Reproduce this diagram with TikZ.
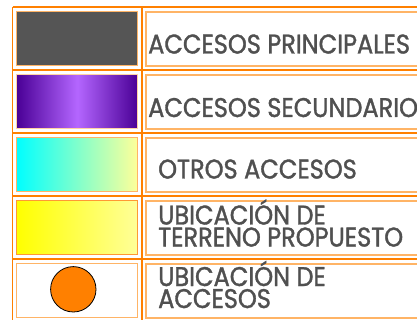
\documentclass[tikz,border=0pt]{standalone}
\usepackage{fontspec}
\setmainfont{Poppins}[FakeStretch=0.89,FakeBold=1.3]
\definecolor{gridor}{HTML}{FF8000}
\definecolor{lightor}{HTML}{FFB466}
\definecolor{txt}{HTML}{505050}
\definecolor{swgray}{HTML}{555555}
\definecolor{pdark}{HTML}{4A0096}
\definecolor{plight}{HTML}{B466FF}
\definecolor{ylight}{HTML}{FFFF99}
\begin{document}
\begin{tikzpicture}[x=1pt,y=-1pt,
  gridline/.style={draw=gridor,line width=1.3pt},
  rbox/.style={draw=lightor,line width=1.6pt},
  swatch/.style={draw=lightor,line width=1pt},
  lbl/.style={anchor=base west,inner sep=0pt,text=txt,font=\fontsize{27}{22}\selectfont,align=left}]
\clip (0,0) rectangle (417,320);
\fill[white] (0,0) rectangle (417,320);
% right boxes
\foreach \t in {7,70,133,196,259}{
  \draw[rbox] (146,\t+5) rectangle (425,\t+59);
}
% swatches
\draw[swatch,fill=swgray] (16.7,11.7) rectangle (137.7,66);
\shade[left color=pdark,right color=pdark,middle color=plight] (16.7,74.5) rectangle (137.7,129);
\draw[swatch,draw=lightor!60] (16.7,74.5) rectangle (137.7,129);
\shade[left color=cyan,right color=ylight] (16.7,137.5) rectangle (137.7,191.7);
\draw[swatch] (16.7,137.5) rectangle (137.7,191.7);
\shade[left color=yellow,right color=ylight] (16.7,200.7) rectangle (137.7,254.3);
\draw[swatch,draw=gridor!80] (16.7,200.7) rectangle (137.7,254.3);
\draw[swatch,fill=white] (16.7,263.3) rectangle (137.7,317.3);
\node[circle,minimum size=45.4pt,inner sep=0pt,fill=gridor,draw=black,line width=0.8pt] (dot) at (73.3,289.3) {};
% grid
\foreach \t in {7,70,133,196,259}{
  \draw[gridline] (12.7,\t) -- (425,\t);
}
\draw[gridline] (12.7,7) -- (12.7,325);
\draw[gridline] (142,7) -- (142,325);
% labels
\node[lbl] (l1) at (148,53.5) {ACCESOS PRINCIPALES};
\node[lbl] (l2) at (148,117) {ACCESOS SECUNDARIOS};
\node[lbl] (l3) at (158,178.5) {OTROS ACCESOS};
\node[lbl] (l4) at (158,246.5) {UBICACIÓN DE\\TERRENO PROPUESTO};
\node[lbl] (l5) at (158,308) {UBICACIÓN DE\\ACCESOS};
\end{tikzpicture}
\end{document}
